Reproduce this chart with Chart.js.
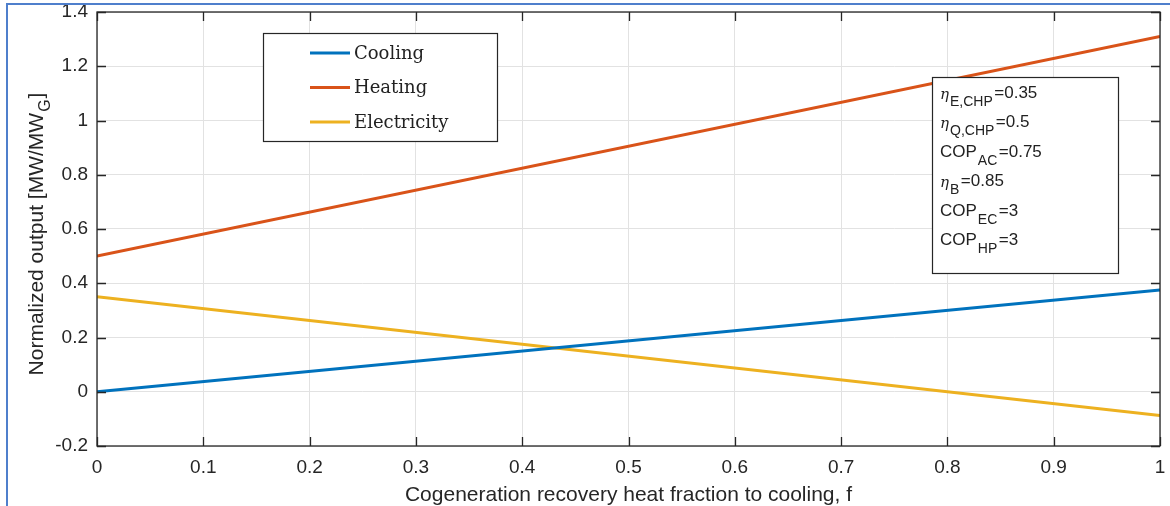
<!DOCTYPE html>
<html>
<head>
<meta charset="utf-8">
<script src="https://cdn.jsdelivr.net/npm/chart.js@4"></script>
<style>
  html, body { margin: 0; padding: 0; background: #fff; }
  #wrap { width: 1170px; height: 506px; position: relative; }
</style>
</head>
<body>
<div id="wrap"><canvas id="myChart" width="1170" height="506"></canvas></div>
<script>
// recovery heat fraction to cooling (x) and normalized outputs at the ends of the range
var fraction = [0, 1];
var cooling = [0, 0.375];
var heating = [0.5, 1.31];
var electricity = [0.35, -0.088];

var seriesNames = ["Cooling", "Heating", "Electricity"];
var seriesColors = ["#0072BD", "#D95319", "#EDB120"];

// parameter box lines: [symbol, subscript, rest]
var paramLines = [
    ["η", "E,CHP", "=0.35"],
    ["η", "Q,CHP", "=0.5"],
    ["COP", "AC", "=0.75"],
    ["η", "B", "=0.85"],
    ["COP", "EC", "=3"],
    ["COP", "HP", "=3"]
];

var xTicks = [0, 0.1, 0.2, 0.3, 0.4, 0.5, 0.6, 0.7, 0.8, 0.9, 1];
var yTicks = [-0.2, 0, 0.2, 0.4, 0.6, 0.8, 1, 1.2, 1.4];

var sans = "'Liberation Sans', Arial, sans-serif";
var axisColor = "#262626";

function points(ys) {
    return fraction.map(function (f, i) { return { x: f, y: ys[i] }; });
}

var values = [cooling, heating, electricity];
var datasets = values.map(function (ys, i) {
    return {
        label: seriesNames[i],
        data: points(ys),
        borderColor: seriesColors[i],
        backgroundColor: seriesColors[i],
        borderWidth: 3,
        pointRadius: 0,
        showLine: true,
        tension: 0
    };
});

// drop the label overhang so the plot box sits where the layout says
function noPadding(scale) {
    scale.paddingLeft = 0;
    scale.paddingRight = 0;
    scale.paddingTop = 0;
    scale.paddingBottom = 0;
}

// legend, parameter box, axis frame with inward ticks and the y title
var decorations = {
    id: "decorations",
    afterDatasetsDraw: function (chart) {
        var ctx = chart.ctx;
        var area = chart.chartArea;
        var xs = chart.scales.x, ys = chart.scales.y;
        ctx.save();

        // legend
        ctx.fillStyle = "#fff";
        ctx.fillRect(263, 33, 234, 108);
        ctx.strokeStyle = axisColor;
        ctx.lineWidth = 1.2;
        ctx.strokeRect(263.5, 33.5, 234, 108);
        ctx.font = "18px 'DejaVu Serif', serif";
        ctx.textBaseline = "middle";
        chart.data.datasets.forEach(function (ds, i) {
            var y = 53 + i * 34.5;
            ctx.strokeStyle = ds.borderColor;
            ctx.lineWidth = 3;
            ctx.beginPath();
            ctx.moveTo(310, y);
            ctx.lineTo(350, y);
            ctx.stroke();
            ctx.fillStyle = "#222";
            ctx.fillText(ds.label, 354, y + 1);
        });

        // parameter box
        ctx.fillStyle = "#fff";
        ctx.fillRect(932, 77, 186, 196);
        ctx.strokeStyle = axisColor;
        ctx.lineWidth = 1.2;
        ctx.strokeRect(932.5, 77.5, 186, 196);
        ctx.textBaseline = "alphabetic";
        ctx.fillStyle = "#222";
        paramLines.forEach(function (line, i) {
            var base = 98 + i * 29.4;
            var x = 940;
            if (line[0] === "η") {
                ctx.font = "italic 15px 'DejaVu Serif', serif";
                ctx.fillText(line[0], x, base + 1);
                x += ctx.measureText(line[0]).width + 1;
            } else {
                ctx.font = "17px " + sans;
                ctx.fillText(line[0], x, base);
                x += ctx.measureText(line[0]).width + 1;
            }
            ctx.font = "14px " + sans;
            ctx.fillText(line[1], x, base + 8);
            x += ctx.measureText(line[1]).width + 1.5;
            ctx.font = "17px " + sans;
            ctx.fillText(line[2], x, base);
        });

        // axis frame and inward tick marks
        ctx.strokeStyle = axisColor;
        ctx.lineWidth = 1.3;
        ctx.strokeRect(area.left, area.top, area.right - area.left, area.bottom - area.top);
        ctx.beginPath();
        xTicks.forEach(function (v) {
            var px = Math.round(xs.getPixelForValue(v)) + 0.5;
            ctx.moveTo(px, area.bottom); ctx.lineTo(px, area.bottom - 9);
            ctx.moveTo(px, area.top); ctx.lineTo(px, area.top + 9);
        });
        yTicks.forEach(function (v) {
            var py = Math.round(ys.getPixelForValue(v)) + 0.5;
            ctx.moveTo(area.left, py); ctx.lineTo(area.left + 9, py);
            ctx.moveTo(area.right, py); ctx.lineTo(area.right - 9, py);
        });
        ctx.stroke();

        // y axis title with subscript
        var main = "Normalized output [MW/MW", sub = "G", close = "]";
        ctx.fillStyle = axisColor;
        ctx.font = "21px " + sans;
        var w1 = ctx.measureText(main).width;
        var w3 = ctx.measureText(close).width;
        ctx.font = "16px " + sans;
        var w2 = ctx.measureText(sub).width;
        var total = w1 + w2 + w3 + 2;
        ctx.translate(43, (area.top + area.bottom) / 2 + 5);
        ctx.rotate(-Math.PI / 2);
        var tx = -total / 2;
        ctx.font = "21px " + sans;
        ctx.fillText(main, tx, 0);
        ctx.font = "16px " + sans;
        ctx.fillText(sub, tx + w1 + 1, 7);
        ctx.font = "21px " + sans;
        ctx.fillText(close, tx + w1 + w2 + 2, 0);
        ctx.restore();
    },
    afterDraw: function (chart) {
        // thin blue frame along the top and left edge
        var ctx = chart.ctx;
        ctx.save();
        ctx.strokeStyle = "#4F7FCC";
        ctx.lineWidth = 2;
        ctx.beginPath();
        ctx.moveTo(7, 506);
        ctx.lineTo(7, 4);
        ctx.lineTo(1170, 4);
        ctx.stroke();
        ctx.restore();
    }
};

var ctx = document.getElementById("myChart").getContext("2d");
var myChart = new Chart(ctx, {
    type: "scatter",
    data: { datasets: datasets },
    options: {
        responsive: false,
        animation: false,
        layout: { padding: { left: 0, top: 12, right: 10, bottom: 0 } },
        plugins: {
            legend: { display: false },
            tooltip: { enabled: false }
        },
        scales: {
            x: {
                type: "linear",
                min: 0,
                max: 1,
                afterBuildTicks: function (scale) {
                    scale.ticks = xTicks.map(function (v) { return { value: v }; });
                },
                afterFit: function (scale) { scale.height = 60; noPadding(scale); },
                ticks: {
                    color: axisColor,
                    font: { family: sans, size: 19 },
                    padding: 10,
                    maxRotation: 0,
                    autoSkip: false,
                    callback: function (v) { return String(v); }
                },
                grid: { color: "#e2e2e2", lineWidth: 1, drawTicks: false },
                border: { display: false },
                title: {
                    display: true,
                    text: "Cogeneration recovery heat fraction to cooling, f",
                    color: axisColor,
                    font: { family: sans, size: 21 },
                    padding: { top: 0, bottom: -2 }
                }
            },
            y: {
                type: "linear",
                min: -0.2,
                max: 1.4,
                afterBuildTicks: function (scale) {
                    scale.ticks = yTicks.map(function (v) { return { value: v }; });
                },
                afterFit: function (scale) { scale.width = 97; noPadding(scale); },
                ticks: {
                    color: axisColor,
                    font: { family: sans, size: 19 },
                    padding: 9,
                    autoSkip: false,
                    callback: function (v) { return String(v); }
                },
                grid: { color: "#e2e2e2", lineWidth: 1, drawTicks: false },
                border: { display: false }
            }
        }
    },
    plugins: [decorations]
});
</script>
</body>
</html>
